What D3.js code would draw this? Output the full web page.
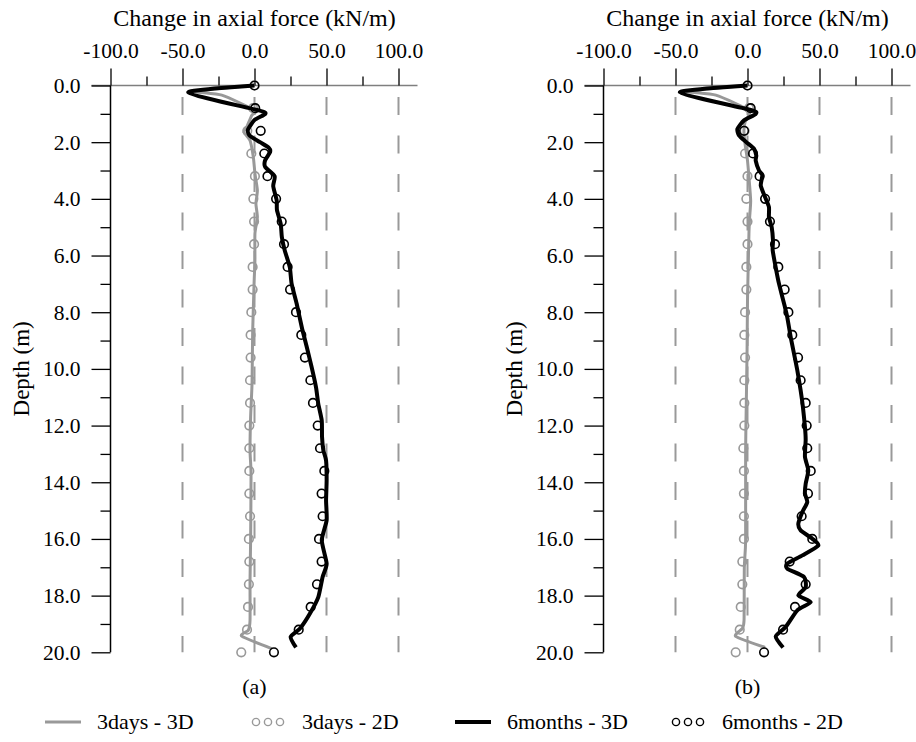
<!DOCTYPE html>
<html>
<head>
<meta charset="utf-8">
<script src="https://cdn.jsdelivr.net/npm/d3@7"></script>
<style>
  body { margin: 0; background: #fff; }
  svg { display: block; font-family: "Liberation Serif", "Times New Roman", serif; }
</style>
</head>
<body>
<svg id="chart" width="916" height="742"></svg>
<script>
// ---- data ----------------------------------------------------------------
// 2D analysis results, sampled every 0.8 m
const depth2D = [0, 0.8, 1.6, 2.4, 3.2, 4.0, 4.8, 5.6, 6.4, 7.2, 8.0, 8.8, 9.6,
                 10.4, 11.2, 12.0, 12.8, 13.6, 14.4, 15.2, 16.0, 16.8, 17.6, 18.4, 19.2, 20.0];

const a3days2D   = [0, -1, -5, -2.2, 0.3, -0.8, -0.3, -0.3, -1.3, -1.3, -2.2, -2.7, -2.7,
                    -3.1, -3.1, -3.6, -3.6, -3.6, -3.6, -3.1, -3.9, -3.6, -3.9, -4.5, -5.2, -9.2];
const a6months2D = [0, 0.5, 4.3, 6.8, 9, 15, 18.9, 20.5, 23, 24.7, 28.8, 32.5, 35,
                    38.8, 40.6, 43.9, 45.5, 48.5, 46.6, 47.3, 44.8, 46.6, 43.4, 39, 30.7, 13.5];
const b3days2D   = [0, 1, -2, -1.7, 0, -0.8, 0, 0, -0.8, -0.8, -1.7, -2.2, -1.7,
                    -2.2, -2.2, -2.2, -2.9, -2.5, -2.5, -2.5, -2.5, -3.6, -3.6, -4.7, -5.4, -8.2];
const b6months2D = [0, 2.2, -2.4, 3.8, 8.4, 12.2, 15.6, 19.1, 21.4, 25.8, 28.4, 31.1, 35.1,
                    36.9, 40.4, 41.1, 41.5, 43.9, 42, 37.6, 45, 29.3, 40.4, 33, 24.7, 11.5];

// 3D analysis results (depth in m, change in axial force in kN/m)
const a3days3DDepth = [0, 0.2, 0.34, 0.88, 1.06, 1.47, 1.65, 1.94, 2.53, 3.1, 3.7, 4.17, 4.65,
                       5.23, 6.17, 7.0, 8.75, 10.5, 11.7, 12.9, 13.7, 16.05, 17.46, 18.87, 19.22, 19.43, 19.87];
const a3days3D      = [0, -42, -22.7, 0.3, -2, -5.4, -7.3, -3.1, -0.8, 0.3, 2, 1, 2,
                       0.3, 0.3, -0.3, -1.3, -1.7, -2.7, -3.1, -2.4, -2.7, -3.1, -3.1, -4.3, -8.9, 11.9];

const a6months3DDepth = [0, 0.24, 0.88, 1.0, 1.22, 1.55, 1.76, 2.0, 2.2, 2.35, 2.65, 2.88, 3.2,
                         3.55, 4.05, 4.4, 4.88, 5.35, 5.82, 6.41, 7.0, 7.7, 8.52, 9.23, 9.94, 10.64,
                         11.23, 11.82, 12.4, 12.87, 13.23, 13.93, 14.64, 15.34, 16.05, 16.87, 17.34,
                         18.05, 18.63, 19.16, 19.46, 19.83];
const a6months3D      = [0, -46, 3, 7.5, 0, -4.5, -3.5, 3.8, 10, 10.8, 7.3, 7.5, 14,
                         13, 15.4, 15.6, 18.2, 19, 21, 24.5, 25.8, 29.3, 32.8, 36.3, 39.7, 42.7,
                         44.3, 46.7, 46.9, 47.8, 49.7, 50.1, 49.7, 50.1, 46.7, 50.1, 47.3,
                         44.3, 38.5, 31.6, 25.1, 28.8];

const b3days3DDepth = [0, 0.2, 0.34, 0.88, 1.29, 1.6, 2.06, 2.65, 3.23, 4.06, 4.65, 5.23, 6.17,
                       7.58, 9.35, 11.1, 12.87, 16.05, 17.0, 18.87, 19.16, 19.44, 19.83];
const b3days3D      = [0, -42, -22, 1, -1.7, -2.5, -1.7, 0, 1, 2.2, 1.5, 1, 0.6,
                       0, -0.3, -0.8, -1.3, -1.3, -2.2, -2.4, -3.6, -8.2, 12.2];

const b6months3DDepth = [0, 0.24, 0.86, 1.0, 1.23, 1.53, 1.76, 2.0, 2.23, 2.47, 2.65, 3.0, 3.17,
                         3.53, 3.94, 4.29, 4.65, 5.0, 5.47, 5.82, 6.53, 7.0, 7.82, 8.17, 8.88, 9.46,
                         10.05, 10.76, 11.35, 12.05, 12.5, 13.1, 13.58, 14.05, 14.4, 14.7, 15.05,
                         15.46, 15.7, 15.99, 16.23, 16.58, 16.87, 17.05, 17.34, 17.7, 17.99, 18.23,
                         18.52, 19.11, 19.44, 19.83];
const b6months3D      = [0, -47, 2.2, 5.7, -2.4, -7, -5.9, -0.8, 4.5, 6.1, 5.7, 8, 10.3,
                         9.2, 12.2, 14.9, 14.9, 16.8, 17.7, 17.5, 20, 21.9, 26, 27.6, 30, 32.3,
                         34.6, 36.9, 38.5, 39.9, 40.4, 39.9, 42.2, 40.4, 39.9, 41.5, 38.1,
                         35.3, 36.9, 45, 49.2, 38.1, 27.6, 27.6, 39.2, 40.4, 35.3, 43.9,
                         34.6, 26.5, 19.6, 24.7];

// axis ticks and labels
const xMajorTicks = [-100, -50, 0, 50, 100];
const xMinorTicks = [-75, -25, 25, 75];
const yMajorTicks = [0, 2, 4, 6, 8, 10, 12, 14, 16, 18, 20];
const yMinorTicks = [1, 3, 5, 7, 9, 11, 13, 15, 17, 19];
const gridValues  = [-50, 0, 50, 100];
const xTitle = "Change in axial force (kN/m)";
const yTitle = "Depth (m)";
const panelLabels = ["(a)", "(b)"];
const seriesNames = ["3days - 3D", "3days - 2D", "6months - 3D", "6months - 2D"];

// ---- styling / layout ----------------------------------------------------
const GRAY = "#999999";
const BLACK = "#000000";
const FONT = "Liberation Serif";
const panelLeft = [110.5, 603.5];
const plotTop = 85.5, plotBottom = 652.3, plotW = 288;
const fmt = d => d.toFixed(1);   // plain hyphen for negatives

const svg = d3.select("#chart");

const panels = [
  { left: panelLeft[0], label: panelLabels[0],
    g3D: [a3days3DDepth, a3days3D], g2D: a3days2D,
    k3D: [a6months3DDepth, a6months3D], k2D: a6months2D },
  { left: panelLeft[1], label: panelLabels[1],
    g3D: [b3days3DDepth, b3days3D], g2D: b3days2D,
    k3D: [b6months3DDepth, b6months3D], k2D: b6months2D }
];

const y = d3.scaleLinear().domain([0, 20]).range([plotTop, plotBottom]);

panels.forEach(p => {
  const x = d3.scaleLinear().domain([-100, 100]).range([p.left, p.left + plotW]);
  const g = svg.append("g");

  // dashed reference lines
  g.selectAll("line.grid").data(gridValues).join("line")
    .attr("class", "grid")
    .attr("x1", d => x(d)).attr("x2", d => x(d))
    .attr("y1", 97).attr("y2", plotBottom)
    .attr("stroke", GRAY).attr("stroke-width", 2)
    .attr("stroke-dasharray", "18 20.5");

  // top axis
  g.append("line")
    .attr("x1", x(-100) - 19).attr("x2", x(100) + 19)
    .attr("y1", y(0)).attr("y2", y(0))
    .attr("stroke", "#7f7f7f").attr("stroke-width", 1.6);

  const xAxisMajor = d3.axisTop(x).tickValues(xMajorTicks).tickSize(17).tickPadding(10.5)
    .tickFormat(fmt);
  const xAxisMinor = d3.axisTop(x).tickValues(xMinorTicks).tickSize(9).tickFormat("");
  [xAxisMajor, xAxisMinor].forEach(ax => {
    const a = g.append("g").attr("transform", `translate(0,${y(0)})`).call(ax);
    a.select(".domain").remove();
    a.selectAll("line").attr("stroke", BLACK).attr("stroke-width", 1.3);
    a.selectAll("text").attr("font-family", FONT).attr("font-size", 21.5)
      .attr("fill", BLACK);
  });

  // left axis
  const yAxisMajor = d3.axisLeft(y).tickValues(yMajorTicks).tickSize(19).tickPadding(11)
    .tickFormat(fmt);
  const yAxisMinor = d3.axisLeft(y).tickValues(yMinorTicks).tickSize(10).tickFormat("");
  [yAxisMajor, yAxisMinor].forEach((ax, i) => {
    const a = g.append("g").attr("transform", `translate(${x(-100)},0)`).call(ax);
    if (i === 1) a.select(".domain").remove();
    a.select(".domain").attr("d", `M0,${y(0)}V${y(20)}`).attr("stroke", BLACK).attr("stroke-width", 1.5);
    a.selectAll("line").attr("stroke", BLACK).attr("stroke-width", 1.3);
    a.selectAll("text").attr("font-family", FONT).attr("font-size", 21.5)
      .attr("fill", BLACK);
  });

  // titles
  g.append("text").attr("x", x(0)).attr("y", 26).attr("text-anchor", "middle")
    .attr("font-family", FONT).attr("font-size", 24).text(xTitle);
  g.append("text").attr("transform", `translate(${p.left - 82},${(plotTop + plotBottom) / 2}) rotate(-90)`)
    .attr("text-anchor", "middle").attr("font-family", FONT).attr("font-size", 23).text(yTitle);
  g.append("text").attr("x", x(0)).attr("y", 694).attr("text-anchor", "middle")
    .attr("font-family", FONT).attr("font-size", 22).text(p.label);

  // smoothed profile lines, kept fairly tight so sharp turns stay pointed
  const line = d3.line()
    .x(d => x(d[1])).y(d => y(d[0]))
    .curve(d3.curveCardinal.tension(0.4));

  const pts3D = s => s[0].map((d, i) => [d, s[1][i]]);
  const pts2D = vals => depth2D.map((d, i) => [d, vals[i]]);

  // 3 days
  g.append("path").datum(pts3D(p.g3D)).attr("d", line)
    .attr("fill", "none").attr("stroke", GRAY).attr("stroke-width", 3)
    .attr("stroke-linejoin", "round");
  g.selectAll("circle.g2d").data(pts2D(p.g2D)).join("circle")
    .attr("class", "g2d").attr("cx", d => x(d[1])).attr("cy", d => y(d[0])).attr("r", 4.3)
    .attr("fill", "none").attr("stroke", GRAY).attr("stroke-width", 1.6);

  // 6 months
  g.append("path").datum(pts3D(p.k3D)).attr("d", line)
    .attr("fill", "none").attr("stroke", BLACK).attr("stroke-width", 4)
    .attr("stroke-linejoin", "round");
  g.selectAll("circle.k2d").data(pts2D(p.k2D)).join("circle")
    .attr("class", "k2d").attr("cx", d => x(d[1])).attr("cy", d => y(d[0])).attr("r", 4.3)
    .attr("fill", "none").attr("stroke", BLACK).attr("stroke-width", 1.6);
});

// ---- legend ----------------------------------------------------------------
const legendY = 722;
const legendItems = [
  { name: seriesNames[0], color: GRAY, type: "line", x: 45 },
  { name: seriesNames[1], color: GRAY, type: "dots", x: 250 },
  { name: seriesNames[2], color: BLACK, type: "line", x: 455 },
  { name: seriesNames[3], color: BLACK, type: "dots", x: 670 }
];
const lg = svg.append("g");
legendItems.forEach(it => {
  if (it.type === "line") {
    lg.append("line").attr("x1", it.x).attr("x2", it.x + 36)
      .attr("y1", legendY).attr("y2", legendY)
      .attr("stroke", it.color).attr("stroke-width", it.color === BLACK ? 4 : 3);
  } else {
    [0, 1, 2].forEach(k => lg.append("circle")
      .attr("cx", it.x + 6 + k * 12).attr("cy", legendY).attr("r", 3.6)
      .attr("fill", "none").attr("stroke", it.color).attr("stroke-width", 1.4));
  }
  lg.append("text").attr("x", it.x + 52).attr("y", legendY + 7)
    .attr("font-family", FONT).attr("font-size", 22).text(it.name);
});
</script>
</body>
</html>
